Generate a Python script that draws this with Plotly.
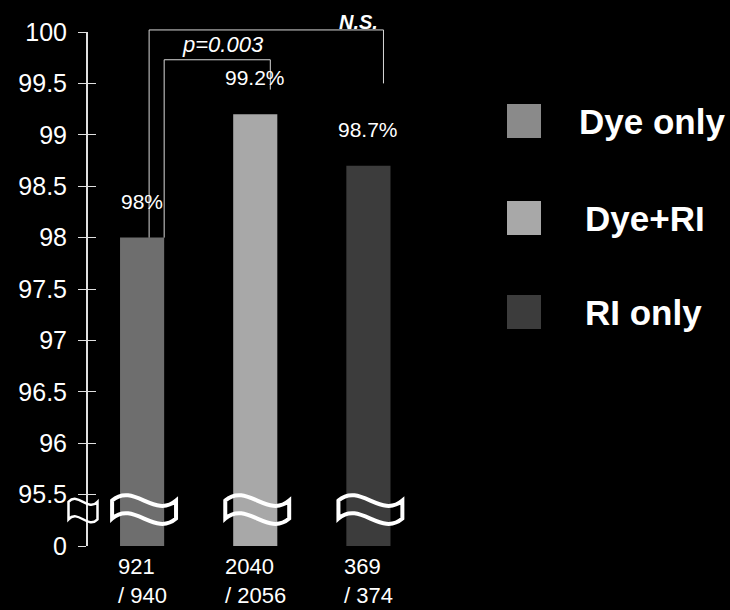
import plotly.graph_objects as go

# ---------------- data ----------------
groups = ["Dye only", "Dye+RI", "RI only"]
rates = [98.0, 99.2, 98.7]
rate_labels = ["98%", "99.2%", "98.7%"]
count_labels = ["921<br>/ 940", "2040<br>/ 2056", "369<br>/ 374"]
bar_colors = ["#6e6e6e", "#a8a8a8", "#3c3c3c"]
ytick_vals = [95, 95.5, 96, 96.5, 97, 97.5, 98, 98.5, 99, 99.5, 100]
ytick_text = ["0", "95.5", "96", "96.5", "97", "97.5", "98", "98.5", "99", "99.5", "100"]
p_text = "p=0.003"
ns_text = "N.S."

# ---------------- layout constants ----------------
W, H = 730, 610
ML, MR, MT, MB = 88, 305, 32, 64
Y0, Y1 = 95.0, 100.0
X0, X1 = -0.478, 2.5
BAR_W = 0.39
FONT = "Liberation Sans, Arial, sans-serif"
plot_h = H - MT - MB
plot_w = W - ML - MR


def yp(v):
    """data y -> paper y"""
    return (v - Y0) / (Y1 - Y0)


def py2paper(py):
    return (H - MB - py) / plot_h


def px2paper(px):
    return (px - ML) / plot_w


fig = go.Figure()
xs = list(range(len(groups)))
for i, g in enumerate(groups):
    fig.add_trace(go.Bar(
        x=[xs[i]], y=[rates[i]], name=g, width=BAR_W,
        marker=dict(color=bar_colors[i], line=dict(width=0)),
        showlegend=False, hoverinfo="skip",
    ))

shapes = []
annotations = []

# percent labels above bars
for i in xs:
    annotations.append(dict(
        x=i, y=rates[i], xref="x", yref="y", text=rate_labels[i],
        showarrow=False, yanchor="bottom", yshift=23,
        font=dict(family=FONT, size=21, color="white"),
    ))

# count labels under bars
for i in xs:
    annotations.append(dict(
        x=i, y=py2paper(552), xref="x", yref="paper", text=count_labels[i],
        showarrow=False, yanchor="top", xanchor="center", align="left",
        font=dict(family=FONT, size=22, color="white"),
    ))

# significance brackets
line_style = dict(color="#d8d8d8", width=1)
# p bracket: Dye only vs Dye+RI
p_left = xs[0] + BAR_W / 2
p_right = 1.133
p_top = 99.73
shapes.append(dict(
    type="path", xref="x", yref="paper", line=line_style,
    path=f"M {p_left},{yp(rates[0])} L {p_left},{yp(p_top)} L {p_right},{yp(p_top)} L {p_right},{yp(99.44)}",
))
annotations.append(dict(
    x=0.712, y=yp(99.88), xref="x", yref="paper", text=f"<i>{p_text}</i>",
    showarrow=False, xanchor="center", yanchor="middle",
    font=dict(family=FONT, size=22, color="white"),
))
# N.S. bracket: Dye only vs RI only
ns_left = 0.062
ns_right = 2.133
ns_top = 100.02
shapes.append(dict(
    type="path", xref="x", yref="paper", line=line_style,
    path=f"M {ns_left},{yp(rates[0])} L {ns_left},{yp(ns_top)} L {ns_right},{yp(ns_top)} L {ns_right},{yp(99.5)}",
))
annotations.append(dict(
    x=1.916, y=py2paper(21.5), xref="x", yref="paper", text=f"<b><i>{ns_text}</i></b>",
    showarrow=False, xanchor="center", yanchor="middle",
    font=dict(family=FONT, size=20, color="white"),
))


def wave_path(L, R, yt, yb, A):
    w = R - L
    c1x, c2x = L + w / 3, L + 2 * w / 3
    return (f"M {L},{yt} C {c1x},{yt + A} {c2x},{yt - A} {R},{yt} "
            f"L {R},{yb} C {c2x},{yb - A} {c1x},{yb + A} {L},{yb} Z")


# axis-break waves on bars
for i in xs:
    shapes.append(dict(
        type="path", xref="x", yref="y",
        path=wave_path(i - 0.265, i + 0.30, 95.442, 95.267, 0.18),
        line=dict(color="white", width=4), fillcolor="rgba(0,0,0,0)",
    ))
# axis-break wave on y axis
shapes.append(dict(
    type="path", xref="paper", yref="y",
    path=wave_path(px2paper(68.5), px2paper(97.5), 95.43, 95.26, 0.10),
    line=dict(color="white", width=2.5), fillcolor="rgba(0,0,0,0)",
))

# custom legend
leg_y = [121, 218, 312]
leg_text_x = [577, 583, 583]
for i, g in enumerate(groups):
    cy = py2paper(leg_y[i])
    half = 17 / plot_h
    shapes.append(dict(
        type="rect", xref="paper", yref="paper",
        x0=px2paper(507), x1=px2paper(541), y0=cy - half, y1=cy + half,
        fillcolor=bar_colors[i] if i != 0 else "#8a8a8a", line=dict(width=0),
    ))
    annotations.append(dict(
        x=px2paper(leg_text_x[i]), y=cy, xref="paper", yref="paper",
        text=f"<b>{g}</b>", showarrow=False, xanchor="left", yanchor="middle",
        font=dict(family=FONT, size=35, color="white"),
    ))

fig.update_layout(
    width=W, height=H,
    margin=dict(l=ML, r=MR, t=MT, b=MB, pad=0),
    paper_bgcolor="black", plot_bgcolor="black",
    barmode="overlay",
    showlegend=False,
    shapes=shapes,
    annotations=annotations,
    xaxis=dict(
        range=[X0, X1], showgrid=False, zeroline=False, showline=False,
        showticklabels=False, ticks="", fixedrange=True,
    ),
    yaxis=dict(
        range=[Y0, Y1], tickmode="array", tickvals=ytick_vals, ticktext=ytick_text,
        showgrid=False, zeroline=False, showline=True, linecolor="#e0e0e0", linewidth=2,
        ticks="outside", ticklen=8, tickwidth=1, tickcolor="#e0e0e0",
        ticklabelstandoff=6,
        tickfont=dict(family=FONT, size=25, color="white"),
    ),
    yaxis2=dict(
        range=[Y0, Y1], overlaying="y", side="left", tickmode="array",
        tickvals=ytick_vals, showticklabels=False, showgrid=False, zeroline=False,
        showline=False, ticks="inside", ticklen=8, tickwidth=1, tickcolor="#e0e0e0",
    ),
)
# invisible trace to activate yaxis2
fig.add_trace(go.Scatter(x=[None], y=[None], yaxis="y2", showlegend=False, hoverinfo="skip"))

fig.write_html(
    "out.html",
    config={"displayModeBar": False},
    post_script="document.body.style.margin='0';document.body.style.background='black';",
)
